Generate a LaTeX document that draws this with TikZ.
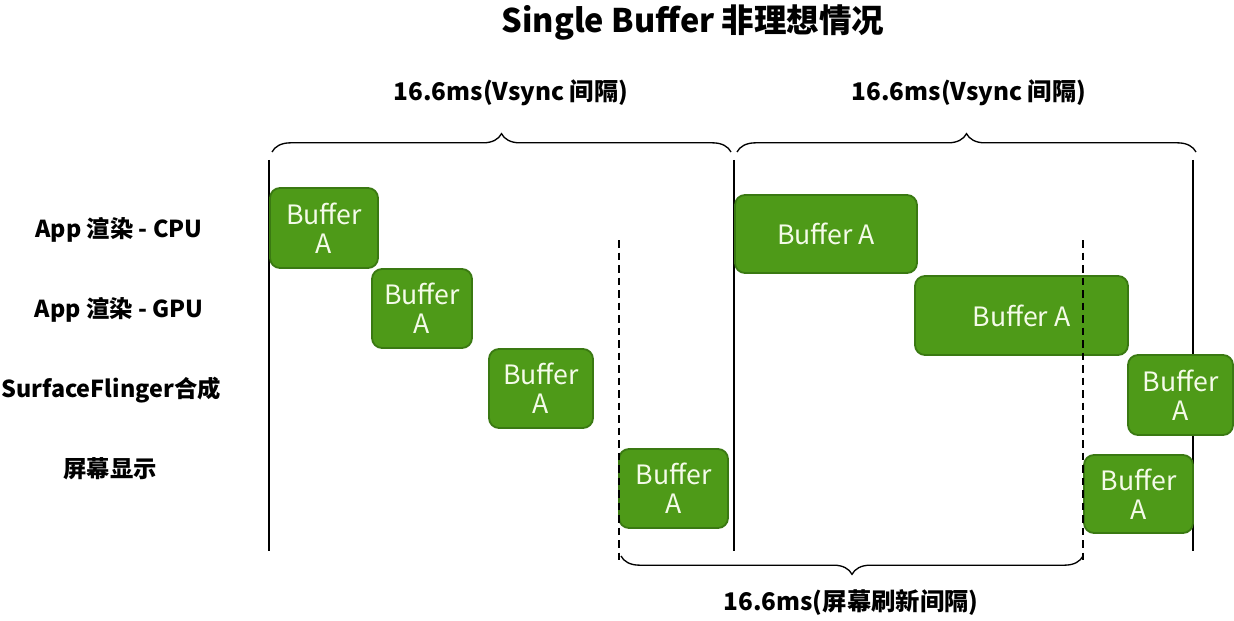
\documentclass[tikz,border=0pt]{standalone}
\usepackage{fontspec}
\setmainfont{Noto Sans CJK SC}
\usepackage{tikz}
\usetikzlibrary{positioning, decorations.pathreplacing}
\definecolor{vert}{HTML}{4E9A18}
\definecolor{vertfonce}{HTML}{3A7912}
\definecolor{creme}{HTML}{F4FBE8}

\begin{document}
\begin{tikzpicture}[x=0.6pt, y=-0.6pt,
		buf/.style={draw=vertfonce, fill=vert, line width=1.1pt, rounded corners=6pt, text=creme, align=center, inner sep=0pt, font=\fontsize{16}{17.5}\selectfont},
		lbl/.style={font=\bfseries\fontsize{14}{16}\selectfont},
		duree/.style={font=\bfseries\fontsize{14.6}{16}\selectfont},
		accolade/.style={decorate, decoration={brace, amplitude=11pt}, line width=0.8pt},
		trait/.style={line width=1.2pt},
		pointille/.style={line width=1.2pt, dash pattern=on 4.5pt off 3pt}]
		\useasboundingbox (0,0) rectangle (1234,621);
		
		%titre
		\node[font=\bfseries\fontsize{19.5}{22}\selectfont] (titre) at (693,22) {Single Buffer 非理想情况};
		
		%lignes vsync
		\coordinate (v1h) at (269,160);
		\coordinate (v1b) at (269,551);
		\coordinate (v2h) at (734,160);
		\coordinate (v2b) at (734,551);
		\coordinate (v3h) at (1193,160);
		\coordinate (v3b) at (1193,551);
		
		\draw[trait] (v1h) -- (v1b);
		\draw[trait] (v2h) -- (v2b);
		\draw[trait] (v3h) -- (v3b);
		
		%accolades du haut
		\coordinate (a1g) at (272,152);
		\coordinate (a1d) at (731,152);
		\coordinate (a2g) at (737,152);
		\coordinate (a2d) at (1196,152);
		
		\draw[accolade] (a1g) -- (a1d);
		\draw[accolade] (a2g) -- (a2d);
		
		\node[duree] (vs1) at (511,93) {16.6ms(Vsync 间隔)};
		\node[duree] (vs2) at (969,93) {16.6ms(Vsync 间隔)};
		
		%lignes
		\node[lbl] (cpu) at (119,230) {App 渲染 - CPU};
		\node[lbl] (gpu) at (119,310) {App 渲染 - GPU};
		\node[lbl] (sf) at (111,390) {SurfaceFlinger合成};
		\node[lbl] (ecran) at (110,469) {屏幕显示};
		
		%vsync 1
		\node[buf, minimum width=64.8pt, minimum height=48pt] (b1) at (324,228) {Buffer\\A};
		\node[buf, minimum width=60pt, minimum height=47.4pt] (b2) at (422,308.5) {Buffer\\A};
		\node[buf, minimum width=62.4pt, minimum height=47.4pt] (b3) at (541,388.5) {Buffer\\A};
		\node[buf, minimum width=65.4pt, minimum height=47.4pt] (b4) at (673.5,488.5) {Buffer\\A};
		
		%vsync 2
		\node[buf, minimum width=109.2pt, minimum height=46.8pt] (c1) at (826,234) {Buffer A};
		\node[buf, minimum width=127.8pt, minimum height=47.4pt] (c2) at (1021.5,315.5) {Buffer A};
		\node[buf, minimum width=63pt, minimum height=48pt] (c3) at (1180.5,395) {Buffer\\A};
		\node[buf, minimum width=65.4pt, minimum height=46.8pt] (c4) at (1138.5,494) {Buffer\\A};
		
		%rafraichissement ecran
		\coordinate (r1h) at (619,240);
		\coordinate (r1b) at (619,560);
		\coordinate (r2h) at (1083,240);
		\coordinate (r2b) at (1083,560);
		
		\draw[pointille] (r1h) -- (r1b);
		\draw[pointille] (r2h) -- (r2b);
		
		\coordinate (a3g) at (621,556);
		\coordinate (a3d) at (1083,556);
		
		\draw[accolade] (a3d) -- (a3g);
		
		\node[duree] (rafr) at (851,603) {16.6ms(屏幕刷新间隔)};
		
	\end{tikzpicture}
\end{document}
